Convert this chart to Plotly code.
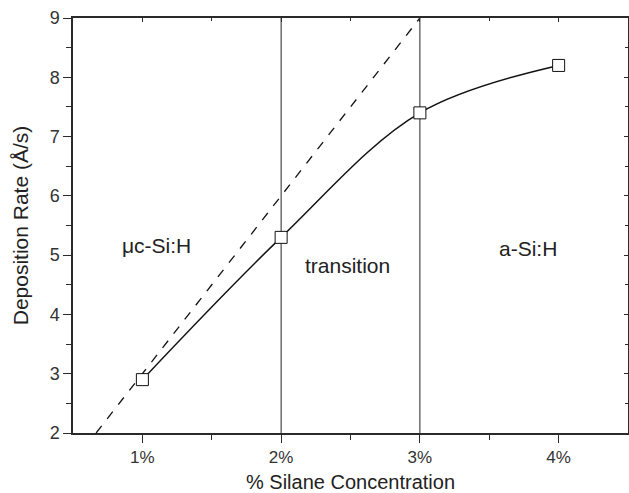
import plotly.graph_objects as go

# Data
silane_pct = [1, 2, 3, 4]
dep_rate = [2.9, 5.3, 7.4, 8.2]
linear_x = [2/3, 3]
linear_y = [2.0, 9.0]
boundaries = [2, 3]
region_labels = ["\u03bcc-Si:H", "transition", "a-Si:H"]
region_x = [1.105, 2.478, 3.78]
region_y = [5.17, 4.83, 5.12]
x_ticks = [1, 2, 3, 4]
x_tick_text = ["1%", "2%", "3%", "4%"]

FONT = "Liberation Sans, Arial, sans-serif"
AX = "#2a2a2a"

fig = go.Figure()

# extrapolated linear trend (dashed)
fig.add_trace(go.Scatter(x=linear_x, y=linear_y, mode="lines",
                         line=dict(color="#111", width=1.3, dash="dash"),
                         showlegend=False, hoverinfo="skip"))

# region boundary lines
for b in boundaries:
    fig.add_trace(go.Scatter(x=[b, b], y=[2, 9], mode="lines",
                             line=dict(color="#3a3a3a", width=1.1),
                             showlegend=False, hoverinfo="skip"))

# measured data with smooth curve
fig.add_trace(go.Scatter(x=silane_pct, y=dep_rate, mode="lines+markers",
                         line=dict(color="#111", width=1.5, shape="spline", smoothing=1),
                         marker=dict(symbol="square", size=12, color="white",
                                     line=dict(color="#111", width=1)),
                         showlegend=False))

for t, xx, yy in zip(region_labels, region_x, region_y):
    fig.add_annotation(x=xx, y=yy, text=t, showarrow=False,
                       font=dict(family=FONT, size=21, color="#222"))

common = dict(showgrid=False, zeroline=False, showline=True, linecolor=AX,
              linewidth=1.5, tickcolor=AX, tickwidth=1.2)

fig.update_layout(
    width=629, height=493,
    margin=dict(l=73, r=1, t=18, b=60),
    paper_bgcolor="white", plot_bgcolor="white",
    font=dict(family=FONT, size=17, color="#333"),
    xaxis=dict(range=[0.5, 4.5], tickvals=x_ticks, ticktext=x_tick_text,
               ticks="outside", ticklen=8, tickfont=dict(size=17),
               minor=dict(tickvals=[1.5, 2.5, 3.5], ticks="outside", ticklen=5,
                          tickcolor=AX, tickwidth=1.2),
               title=dict(text="% Silane Concentration", standoff=11,
                          font=dict(size=20, color="#222")),
               **common),
    yaxis=dict(range=[2, 9], dtick=1, ticks="outside", ticklen=8,
               tickfont=dict(size=18),
               minor=dict(dtick=0.5, ticks="outside", ticklen=5,
                          tickcolor=AX, tickwidth=1.2),
               title=dict(text="Deposition Rate (Å/s)", standoff=15,
                          font=dict(size=21, color="#222")),
               **common),
    xaxis2=dict(range=[0.5, 4.5], overlaying="x", side="top", tickvals=x_ticks,
                showticklabels=False, ticks="inside", ticklen=4,
                minor=dict(tickvals=[1.5, 2.5, 3.5], ticks="inside", ticklen=3,
                           tickcolor=AX, tickwidth=1.2),
                **common),
    yaxis2=dict(range=[2, 9], overlaying="y", side="right", dtick=1,
                showticklabels=False, ticks="inside", ticklen=4,
                minor=dict(dtick=0.5, ticks="inside", ticklen=3,
                           tickcolor=AX, tickwidth=1.2),
                **common),
)

# invisible trace to anchor the mirrored axes
fig.add_trace(go.Scatter(x=[1], y=[2], xaxis="x2", yaxis="y2", mode="markers",
                         marker=dict(opacity=0), showlegend=False, hoverinfo="skip"))

fig.write_html("out.html", config={"displayModeBar": False},
               post_script="document.body.style.margin='0';document.body.style.overflow='hidden';")
